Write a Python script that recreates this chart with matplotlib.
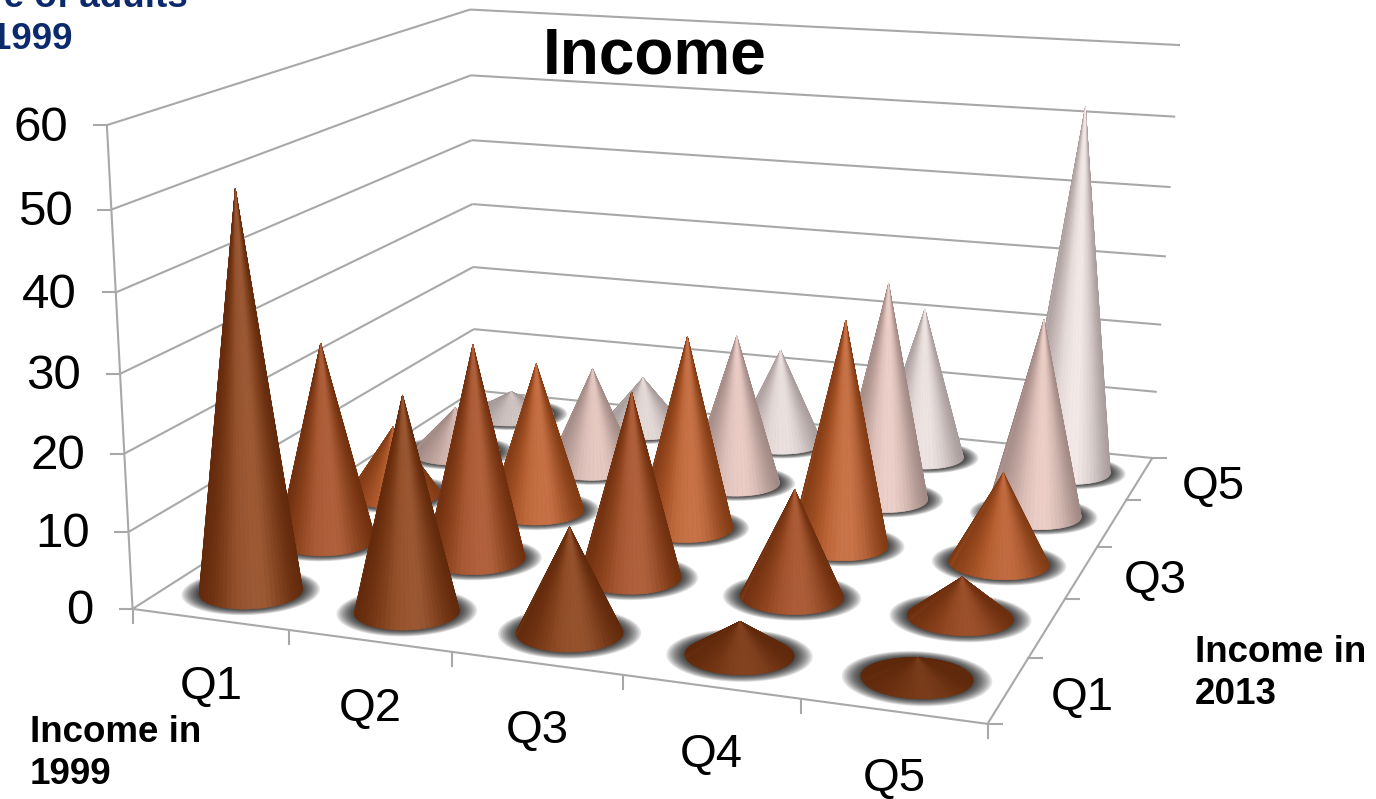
import numpy as np
import matplotlib
matplotlib.use("Agg")
import matplotlib.pyplot as plt
from matplotlib.collections import PolyCollection
from matplotlib.colors import to_rgb

income_1999 = ["Q1", "Q2", "Q3", "Q4", "Q5"]
income_2013 = ["Q1", "Q2", "Q3", "Q4", "Q5"]
z_ticks = [0, 10, 20, 30, 40, 50, 60]

# share of adults, one row per 2013 quintile, one column per 1999 quintile
shares = np.array([
    [51.2, 27.6, 13.4, 4.2, 2.5],
    [26.9, 28.6, 24.4, 14, 5.2],
    [9.7, 20.7, 26.4, 30.4, 12.2],
    [6.7, 14.6, 21.3, 30.5, 27.3],
    [3.6, 7.8, 14, 22, 52.4],
])

# edge, body and highlight colour of the cones in each 2013 row
row_colors = [
    ("#5f280b", "#7f3c16", "#a3603c"),
    ("#6b2d0d", "#974820", "#b96a46"),
    ("#7c3812", "#ad5527", "#d17c52"),
    ("#9c8580", "#ccaea8", "#f6d9d1"),
    ("#a39696", "#d8ccca", "#f6eeec"),
]

plt.rcParams["font.family"] = ["Liberation Sans", "DejaVu Sans"]

fig = plt.figure(figsize=(13.76, 7.99), dpi=100)
ax = fig.add_axes([0, 0, 1, 1])
ax.set_xlim(0, 1376)
ax.set_ylim(799, 0)
ax.axis("off")

# Camera: solve a 3x4 projection from where the box corners sit on the page
box_corners = [(0, 0, 0), (5, 0, 0), (5, 5, 0), (0, 5, 0), (0, 0, 60), (0, 5, 60), (5, 5, 60)]
page_corners = [(132, 608), (988, 724), (1152, 458), (475, 391), (107, 126), (470, 9), (1180, 45)]
rows = []
for (X, Y, Z), (u, v) in zip(box_corners, page_corners):
    rows.append([X, Y, Z, 1, 0, 0, 0, 0, -u * X, -u * Y, -u * Z, -u])
    rows.append([0, 0, 0, 0, X, Y, Z, 1, -v * X, -v * Y, -v * Z, -v])
camera = np.linalg.svd(np.array(rows, dtype=float))[2][-1].reshape(3, 4)


def project(x, y, z):
    pts = np.stack([x * np.ones_like(y * 1.0), y * np.ones_like(x * 1.0),
                    z * np.ones_like(x * y * 1.0), np.ones_like(x * y * 1.0)])
    h = camera @ pts.reshape(4, -1)
    return h[0] / h[2], h[1] / h[2]


def line3d(a, b, **kw):
    x, y = project(np.array([a[0], b[0]], dtype=float), np.array([a[1], b[1]], dtype=float),
                   np.array([a[2], b[2]], dtype=float))
    ax.plot(x, y, solid_capstyle="butt", **kw)
    return x, y


grid = dict(color="#a8a8a8", lw=1.5, zorder=1)

# walls
for z in z_ticks:
    line3d((0, 0, z), (0, 5, z), **grid)
    line3d((0, 5, z), (5, 5, z), **grid)
    px, py = project(np.array([0.0]), np.array([0.0]), np.array([float(z)]))
    ax.plot([px[0] - 13, px[0]], [py[0], py[0]], **grid)
    ax.text(px[0] - 39, py[0] + 3, str(z), ha="right", va="center",
            fontsize=35.5, color="black", zorder=50)
line3d((0, 0, 0), (0, 0, 60), **grid)

# floor outline with ticks
line3d((0, 0, 0), (5, 0, 0), **grid)
line3d((5, 0, 0), (5, 5, 0), **grid)
for i in range(6):
    px, py = project(np.array([float(i)]), np.array([0.0]), np.array([0.0]))
    ax.plot([px[0], px[0]], [py[0], py[0] + 14], **grid)
    px, py = project(np.array([5.0]), np.array([float(i)]), np.array([0.0]))
    ax.plot([px[0], px[0] + 14], [py[0], py[0]], **grid)

# axis category labels
for i, label in enumerate(income_1999):
    px, py = project(np.array([i + 0.5]), np.array([0.0]), np.array([0.0]))
    ax.text(px[0] + 1, py[0] + 68, label, ha="center", va="center", fontsize=34, zorder=50)
for j, label in enumerate(income_2013):
    if j % 2 == 0:
        px, py = project(np.array([5.0]), np.array([j + 0.5]), np.array([0.0]))
        ax.text(px[0] + 74, py[0] + 8, label, ha="center", va="center", fontsize=34, zorder=50)

theta = np.linspace(0, 2 * np.pi, 65)
radius = 0.3


def cone_center(i, j):
    return i + 0.5, j + 0.5


# soft shadows on the floor
for j in range(5):
    for i in range(5):
        cx, cy = cone_center(i, j)
        for scale in np.linspace(1.34, 1.0, 12):
            px, py = project(cx + radius * scale * np.cos(theta), cy + radius * scale * np.sin(theta),
                             np.zeros_like(theta))
            ax.fill(px, py, color="black", alpha=0.1, lw=0, zorder=2)


def cone(i, j, height, colors, zorder):
    cx, cy = cone_center(i, j)
    rim_x = cx + radius * np.cos(theta)
    rim_y = cy + radius * np.sin(theta)
    px, py = project(rim_x, rim_y, np.zeros_like(theta))
    ax_x, ax_y = project(np.array([cx]), np.array([cy]), np.array([0.0]))
    tip_x, tip_y = project(np.array([cx]), np.array([cy]), np.array([float(height)]))
    half_w = (px.max() - px.min()) / 2
    half_h = (py.max() - py.min()) / 2

    edge, body, high = [np.array(to_rgb(c)) for c in colors]
    # flat cones catch less light
    steep = height / (height + 9.0)
    body = edge + (body - edge) * min(1, steep * 2)
    polys, faces, depth = [], [], []
    for k in range(len(theta) - 1):
        mx = (px[k] + px[k + 1]) / 2
        my = (py[k] + py[k + 1]) / 2
        u = (mx - ax_x[0]) / half_w
        v = (my - ax_y[0]) / half_h
        # strongest light comes from just right of the viewer
        light = np.clip(0.25 * u + 0.97 * v, -1, 1)
        if light > 0:
            col = body + (high - body) * light ** 4 * steep
            if abs(u) > 0.25:
                col = col + (edge - col) * ((abs(u) - 0.25) / 0.75) ** 1.3 * 0.9
        else:
            col = body + (edge - body) * min(1, -light * 1.6 + 0.5)
        polys.append([(px[k], py[k]), (px[k + 1], py[k + 1]), (tip_x[0], tip_y[0])])
        faces.append(np.clip(col, 0, 1))
        depth.append(my)
    order = np.argsort(depth)
    coll = PolyCollection([polys[n] for n in order], facecolors=[faces[n] for n in order],
                          edgecolors=[faces[n] for n in order], linewidths=0.5, zorder=zorder)
    ax.add_collection(coll)


# back rows first so nearer cones cover them
zo = 3
for j in range(4, -1, -1):
    for i in range(5):
        cone(i, j, shares[j, i], row_colors[j], zo)
        zo += 1

ax.text(655, 57, "Income", ha="center", va="center", fontsize=46, fontweight="bold", color="black", zorder=60)

navy = "#0b2a6b"
ax.text(188, 7, "Share of adults", ha="right", va="baseline", fontsize=26.5, fontweight="bold", color=navy, zorder=60)
ax.text(72, 49, "in 1999", ha="right", va="baseline", fontsize=26.5, fontweight="bold", color=navy, zorder=60)

ax.text(30, 732, "Income in", ha="left", va="center", fontsize=26.5, fontweight="bold", zorder=60)
ax.text(30, 775, "1999", ha="left", va="center", fontsize=26.5, fontweight="bold", zorder=60)
ax.text(1195, 652, "Income in", ha="left", va="center", fontsize=26.5, fontweight="bold", zorder=60)
ax.text(1195, 694, "2013", ha="left", va="center", fontsize=26.5, fontweight="bold", zorder=60)

fig.savefig("out.png", dpi=100)
